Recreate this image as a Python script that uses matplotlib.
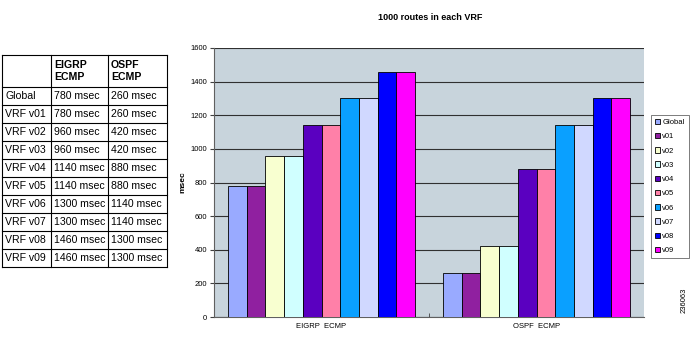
import matplotlib
matplotlib.use("Agg")
import matplotlib.pyplot as plt
import numpy as np

plt.rcParams['font.family'] = ['Liberation Sans', 'DejaVu Sans']

series = ['Global', 'v01', 'v02', 'v03', 'v04', 'v05', 'v06', 'v07', 'v08', 'v09']
row_labels = ['Global', 'VRF v01', 'VRF v02', 'VRF v03', 'VRF v04', 'VRF v05',
              'VRF v06', 'VRF v07', 'VRF v08', 'VRF v09']
categories = ['EIGRP  ECMP', 'OSPF  ECMP']
col_headers = ['EIGRP\nECMP', 'OSPF\nECMP']
eigrp = [780, 780, 960, 960, 1140, 1140, 1300, 1300, 1460, 1460]
ospf = [260, 260, 420, 420, 880, 880, 1140, 1140, 1300, 1300]
colors = ['#99AAFF', '#9020A0', '#F8FFD0', '#D0FFFF', '#5A00C0',
          '#FF80A8', '#0AA0FF', '#D0D8FF', '#0000FF', '#FF00FF']
yticks = [0, 200, 400, 600, 800, 1000, 1200, 1400, 1600]

W, H = 693, 347
fig = plt.figure(figsize=(W / 100, H / 100), dpi=100)

def fx(px):
    return px / W

def fy(py):
    return 1 - py / H

# ---- chart ----
ax = fig.add_axes([fx(214), fy(317), fx(644) - fx(214), fy(48) - fy(317)])
ax.set_facecolor('#C8D4DC')
n = len(series)
bw = 0.087
x = np.arange(len(categories))
for i, s in enumerate(series):
    vals = [eigrp[i], ospf[i]]
    ax.bar(x + (i - (n - 1) / 2) * bw, vals, width=bw, color=colors[i],
           edgecolor='black', linewidth=0.6, label=s, zorder=3)
ax.set_xlim(-0.5, 1.5)
ax.set_ylim(0, 1600)
ax.set_yticks(yticks)
ax.set_yticklabels([str(v) for v in yticks], fontsize=5.5)
ax.yaxis.grid(True, color='#303030', linewidth=0.8, zorder=1)
ax.set_xticks(x)
ax.set_xticklabels(categories, fontsize=5.5)
ax.set_xticks([0.5], minor=True)
ax.tick_params(axis='x', which='major', length=0, pad=4)
ax.tick_params(axis='x', which='minor', length=3, direction='in', color='#404040')
ax.tick_params(axis='y', length=3, color='#404040', pad=2)
for sp in ['top', 'right']:
    ax.spines[sp].set_visible(False)
ax.spines['left'].set_color('#606060')
ax.spines['bottom'].set_color('#606060')
ax.set_ylabel('msec', fontsize=6, fontweight='bold', labelpad=3)
fig.text(fx(430), fy(18), '1000 routes in each VRF', fontsize=6.5,
         fontweight='bold', ha='center', va='center')

leg = ax.legend(loc='upper left', bbox_to_anchor=(fx(651), fy(115)),
                bbox_transform=fig.transFigure, fontsize=5.5, frameon=True,
                fancybox=False, edgecolor='#404040', handlelength=0.7,
                handleheight=0.7, handletextpad=0.3, labelspacing=0.9,
                borderpad=0.5, borderaxespad=0)
leg.get_frame().set_linewidth(0.6)

fig.text(fx(684), fy(300), '236063', fontsize=5.5, rotation=90,
         ha='center', va='center')

# ---- table ----
cols = [2, 51, 108, 167]
top, head_bot, bot = 55, 87, 267
row_h = (bot - head_bot) / len(row_labels)
lw = 0.8
fs = 7.6
for c in cols:
    fig.add_artist(plt.Line2D([fx(c), fx(c)], [fy(top), fy(bot)],
                              color='black', linewidth=lw))
fig.add_artist(plt.Line2D([fx(cols[0]), fx(cols[-1])], [fy(top), fy(top)],
                          color='black', linewidth=lw))
fig.add_artist(plt.Line2D([fx(cols[0]), fx(cols[-1])], [fy(head_bot), fy(head_bot)],
                          color='black', linewidth=lw))
for r in range(1, len(row_labels) + 1):
    yy = head_bot + r * row_h
    fig.add_artist(plt.Line2D([fx(cols[0]), fx(cols[-1])], [fy(yy), fy(yy)],
                              color='black', linewidth=lw))
for j, h in enumerate(col_headers):
    fig.text(fx(cols[j + 1] + 3), fy((top + head_bot) / 2), h, fontsize=fs,
             fontweight='bold', ha='left', va='center', linespacing=1.2)
for r, lab in enumerate(row_labels):
    yc = head_bot + (r + 0.5) * row_h
    fig.text(fx(cols[0] + 3), fy(yc), lab, fontsize=fs, ha='left', va='center')
    fig.text(fx(cols[1] + 3), fy(yc), f'{eigrp[r]} msec', fontsize=fs,
             ha='left', va='center')
    fig.text(fx(cols[2] + 3), fy(yc), f'{ospf[r]} msec', fontsize=fs,
             ha='left', va='center')

fig.savefig('out.png', dpi=100)
